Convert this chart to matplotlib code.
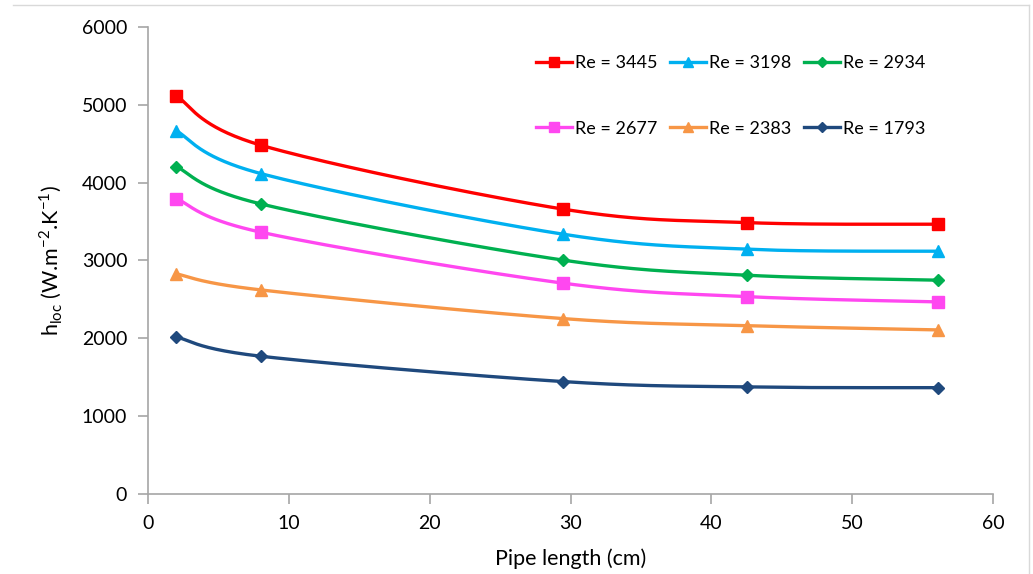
import numpy as np
import matplotlib.pyplot as plt
from matplotlib.lines import Line2D

plt.rcParams['font.family'] = ['Lato', 'DejaVu Sans']
plt.rcParams['mathtext.fontset'] = 'custom'
plt.rcParams['mathtext.rm'] = 'Lato'

# pipe position along the test section (cm)
length = [2.0, 8.0, 29.5, 42.5, 56.1]

# local heat transfer coefficient, W/m2.K
h_3445 = [5116, 4482, 3659, 3487, 3466]
h_3198 = [4666, 4117, 3337, 3145, 3119]
h_2934 = [4207, 3727, 3004, 2811, 2747]
h_2677 = [3796, 3364, 2708, 2536, 2468]
h_2383 = [2828, 2622, 2253, 2163, 2108]
h_1793 = [2018, 1770, 1444, 1375, 1366]

labels = ['Re = 3445', 'Re = 3198', 'Re = 2934', 'Re = 2677', 'Re = 2383', 'Re = 1793']
colors = ['#FF0000', '#00B0F0', '#00B050', '#FF47F0', '#F79646', '#1F497D']
markers = ['s', '^', 'D', 's', '^', 'D']
msizes = [8, 8, 6, 8, 8, 6]


def smooth(x, y, n=40):
    # excel-style smoothed line: cubic bezier segments with catmull-rom handles
    x = np.asarray(x, float)
    y = np.asarray(y, float)
    px = np.concatenate([[x[0]], x, [x[-1]]])
    py = np.concatenate([[y[0]], y, [y[-1]]])
    xs, ys = [], []
    t = np.linspace(0, 1, n)
    for i in range(1, len(px) - 2):
        p0 = np.array([px[i], py[i]])
        p3 = np.array([px[i + 1], py[i + 1]])
        p1 = p0 + (np.array([px[i + 1], py[i + 1]]) - np.array([px[i - 1], py[i - 1]])) / 6
        p2 = p3 - (np.array([px[i + 2], py[i + 2]]) - np.array([px[i], py[i]])) / 6
        b = ((1 - t) ** 3)[:, None] * p0 + (3 * (1 - t) ** 2 * t)[:, None] * p1 \
            + (3 * (1 - t) * t ** 2)[:, None] * p2 + (t ** 3)[:, None] * p3
        xs.extend(b[:, 0])
        ys.extend(b[:, 1])
    return xs, ys


fig = plt.figure(figsize=(10.33, 5.74), dpi=100)
ax = fig.add_axes([0.1433, 0.1394, 0.8180, 0.8136])

handles = []
series = [h_3445, h_3198, h_2934, h_2677, h_2383, h_1793]
for h, lab, c, m, ms in zip(series, labels, colors, markers, msizes):
    sx, sy = smooth(length, h)
    ax.plot(sx, sy, color=c, lw=2.4, zorder=2)
    ax.plot(length, h, ls='none', marker=m, ms=ms, color=c, zorder=3)
    handles.append(Line2D([], [], color=c, lw=2.4, marker=m, ms=ms - 1, label=lab))

ax.set_xlim(0, 60)
ax.set_ylim(0, 6000)
ax.set_xticks(range(0, 61, 10))
ax.set_yticks(range(0, 6001, 1000))

for s in ['top', 'right']:
    ax.spines[s].set_visible(False)
for s in ['left', 'bottom']:
    ax.spines[s].set_color('#A6A6A6')
    ax.spines[s].set_linewidth(1.2)
ax.tick_params(axis='both', colors='#A6A6A6', labelcolor='black', labelsize=14,
               length=7, width=1.2, direction='out', pad=8)

ax.set_xlabel('Pipe length (cm)', fontsize=15.5, labelpad=12)
ax.set_ylabel(r'h$_{\mathregular{loc}}$ (W.m$^{\mathregular{-2}}$.K$^{\mathregular{-1}}$)',
              fontsize=15.5, labelpad=12)

# legend in two rows of three, filled column by column
order = [0, 3, 1, 4, 2, 5]
ax.legend([handles[i] for i in order], [labels[i] for i in order], ncol=3,
          loc='upper left', bbox_to_anchor=(0.44, 0.975), frameon=False,
          fontsize=13, handlelength=2.0, handletextpad=0.15,
          columnspacing=0.7, labelspacing=2.75)

# outer chart border
fig.add_artist(Line2D([0.013, 0.996], [0.991, 0.991], color='#D9D9D9', lw=1))
fig.add_artist(Line2D([0.996, 0.996], [0.0, 0.991], color='#D9D9D9', lw=1))

fig.savefig('out.png', dpi=100)
